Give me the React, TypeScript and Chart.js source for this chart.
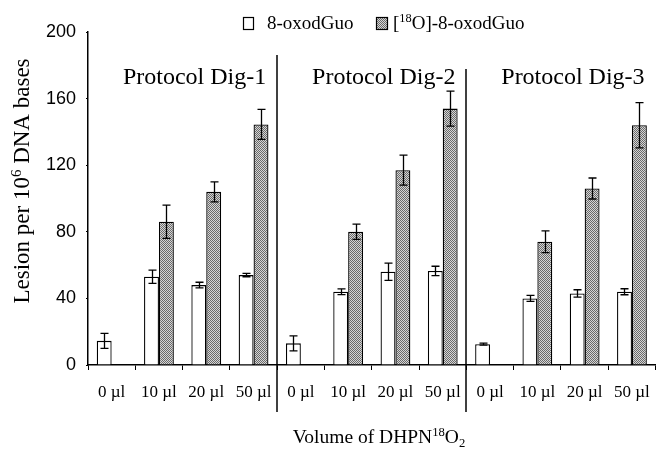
import { useEffect, useRef } from 'react';
import { Chart, registerables } from 'chart.js';

Chart.register(...registerables);

const categories = ['0 µl', '10 µl', '20 µl', '50 µl', '0 µl', '10 µl', '20 µl', '50 µl', '0 µl', '10 µl', '20 µl', '50 µl'];
const protocols = ['Protocol Dig-1', 'Protocol Dig-2', 'Protocol Dig-3'];
const oxoValues = [14.5, 53, 48, 54, 13, 44, 56, 56.5, 12.5, 40, 43, 44];
const oxoErrors = [4.5, 4, 1.7, 1, 4.5, 1.7, 5.2, 2.8, 0.6, 1.8, 2.2, 1.8];
const o18Values = [null, 86, 104, 144.5, null, 80, 117, 154, null, 74, 106, 144];
const o18Errors = [0, 10, 6, 9, 0, 4.6, 9, 10.5, 0, 6.5, 6.3, 13.6];
const yTicks = [0, 40, 80, 120, 160, 200];

const SERIF = '"Liberation Serif", "Times New Roman", serif';
const SANS = '"Liberation Sans", Arial, sans-serif';

type Seg = { t: string; s?: 'sup' | 'sub' };

function segFont(size: number, s?: string) {
  return `${s ? size * 0.65 : size}px ${SERIF}`;
}

function richWidth(ctx: CanvasRenderingContext2D, segs: Seg[], size: number) {
  let w = 0;
  for (const sg of segs) {
    ctx.font = segFont(size, sg.s);
    w += ctx.measureText(sg.t).width;
  }
  return w;
}

function drawRich(ctx: CanvasRenderingContext2D, segs: Seg[], x: number, y: number, size: number, align: 'left' | 'center' | 'right') {
  const w = richWidth(ctx, segs, size);
  let cx = align === 'left' ? x : align === 'center' ? x - w / 2 : x - w;
  ctx.textAlign = 'left';
  ctx.textBaseline = 'alphabetic';
  ctx.fillStyle = '#000';
  for (const sg of segs) {
    ctx.font = segFont(size, sg.s);
    const dy = sg.s === 'sup' ? -size * 0.36 : sg.s === 'sub' ? size * 0.18 : 0;
    ctx.fillText(sg.t, cx, y + dy);
    cx += ctx.measureText(sg.t).width;
  }
}

export default function App() {
  const ref = useRef<HTMLCanvasElement>(null);

  useEffect(() => {
    document.body.style.margin = '0';
    const canvas = ref.current!;

    const pc = document.createElement('canvas');
    pc.width = 2;
    pc.height = 2;
    const pctx = pc.getContext('2d')!;
    pctx.fillStyle = '#d6d6d6';
    pctx.fillRect(0, 0, 2, 2);
    pctx.fillStyle = '#6a6a6a';
    pctx.fillRect(0, 0, 1, 1);
    pctx.fillRect(1, 1, 1, 1);
    const pattern = canvas.getContext('2d')!.createPattern(pc, 'repeat')!;

    const errors = [oxoErrors, o18Errors];

    const overlay = {
      id: 'overlay',
      afterDatasetsDraw(chart: any) {
        const ctx: CanvasRenderingContext2D = chart.ctx;
        const y = chart.scales.y;
        const x = chart.scales.x;
        const area = chart.chartArea;
        ctx.save();
        // error bars
        ctx.strokeStyle = '#000';
        ctx.lineWidth = 1.3;
        chart.data.datasets.forEach((ds: any, di: number) => {
          const meta = chart.getDatasetMeta(di);
          meta.data.forEach((el: any, i: number) => {
            const v = ds.data[i];
            const e = errors[di][i];
            if (v == null || !e) return;
            const yt = y.getPixelForValue(v + e);
            const yb = y.getPixelForValue(v - e);
            const cx = Math.round(el.x) + 0.5;
            ctx.beginPath();
            ctx.moveTo(cx, yt);
            ctx.lineTo(cx, yb);
            ctx.moveTo(cx - 4, yt);
            ctx.lineTo(cx + 4, yt);
            ctx.moveTo(cx - 4, yb);
            ctx.lineTo(cx + 4, yb);
            ctx.stroke();
          });
        });
        // dividers
        ctx.lineWidth = 1.5;
        const divTops = [55, 69];
        [3, 7].forEach((idx, k) => {
          const dx = Math.round((x.getPixelForValue(idx) + x.getPixelForValue(idx + 1)) / 2);
          ctx.beginPath();
          ctx.moveTo(dx, divTops[k]);
          ctx.lineTo(dx, area.bottom + 47);
          ctx.stroke();
        });
        // protocol labels
        ctx.font = `24px ${SERIF}`;
        ctx.fillStyle = '#000';
        ctx.textAlign = 'right';
        ctx.textBaseline = 'alphabetic';
        protocols.forEach((p, k) => {
          const endIdx = k * 4 + 3;
          const right = k < 2 ? (x.getPixelForValue(endIdx) + x.getPixelForValue(endIdx + 1)) / 2 : area.right;
          ctx.fillText(p, right - 11, 84);
        });
        // legend
        ctx.lineWidth = 1.2;
        ctx.fillStyle = '#fff';
        ctx.fillRect(243, 17, 10, 12);
        ctx.strokeRect(243.5, 17.5, 10, 12);
        ctx.fillStyle = pattern;
        ctx.fillRect(376, 17, 11, 12);
        ctx.strokeRect(376.5, 17.5, 11, 12);
        drawRich(ctx, [{ t: '8-oxodGuo' }], 267, 29, 19, 'left');
        drawRich(ctx, [{ t: '[' }, { t: '18', s: 'sup' }, { t: 'O]-8-oxodGuo' }], 393, 29, 19, 'left');
        // x title
        drawRich(ctx, [{ t: 'Volume of DHPN' }, { t: '18', s: 'sup' }, { t: 'O' }, { t: '2', s: 'sub' }], 379, 443, 19.5, 'center');
        // y title
        ctx.save();
        ctx.translate(29, 181);
        ctx.rotate(-Math.PI / 2);
        drawRich(ctx, [{ t: 'Lesion per 10' }, { t: '6', s: 'sup' }, { t: ' DNA bases' }], 0, 0, 23, 'center');
        ctx.restore();
        ctx.restore();
      },
    };

    const chart = new Chart(canvas, {
      type: 'bar',
      data: {
        labels: categories,
        datasets: [
          {
            label: '8-oxodGuo',
            data: oxoValues,
            backgroundColor: '#ffffff',
            borderColor: '#000000',
            borderWidth: 1.3,
            barPercentage: 1,
            categoryPercentage: 0.63,
          },
          {
            label: '[18O]-8-oxodGuo',
            data: o18Values as any,
            backgroundColor: pattern as any,
            borderColor: '#000000',
            borderWidth: 1.3,
            barPercentage: 1,
            categoryPercentage: 0.63,
          },
        ],
      },
      options: {
        responsive: false,
        animation: false,
        devicePixelRatio: 1,
        layout: { padding: { top: 32, right: 4, left: 0, bottom: 0 } },
        plugins: { legend: { display: false }, tooltip: { enabled: false }, title: { display: false } },
        scales: {
          x: {
            offset: true,
            grid: { display: true, drawOnChartArea: false, drawTicks: true, tickLength: 5, color: '#000', offset: true },
            border: { display: true, color: '#000', width: 1.5 },
            ticks: { color: '#000', font: { family: SERIF, size: 17 }, padding: 12, maxRotation: 0, autoSkip: false },
            afterFit: (s: any) => { s.height = 84; },
          },
          y: {
            min: 0,
            max: 200,
            afterBuildTicks: (s: any) => { s.ticks = yTicks.map((v) => ({ value: v })); },
            grid: { display: true, drawOnChartArea: false, drawTicks: true, tickLength: 2, color: '#000' },
            border: { display: true, color: '#000', width: 1.5 },
            ticks: { color: '#000', font: { family: SANS, size: 18 }, padding: 10 },
            afterFit: (s: any) => { s.width = 88; },
          },
        },
      },
      plugins: [overlay],
    });

    return () => chart.destroy();
  }, []);

  return <canvas ref={ref} width={662} height={449} style={{ display: 'block' }} />;
}
